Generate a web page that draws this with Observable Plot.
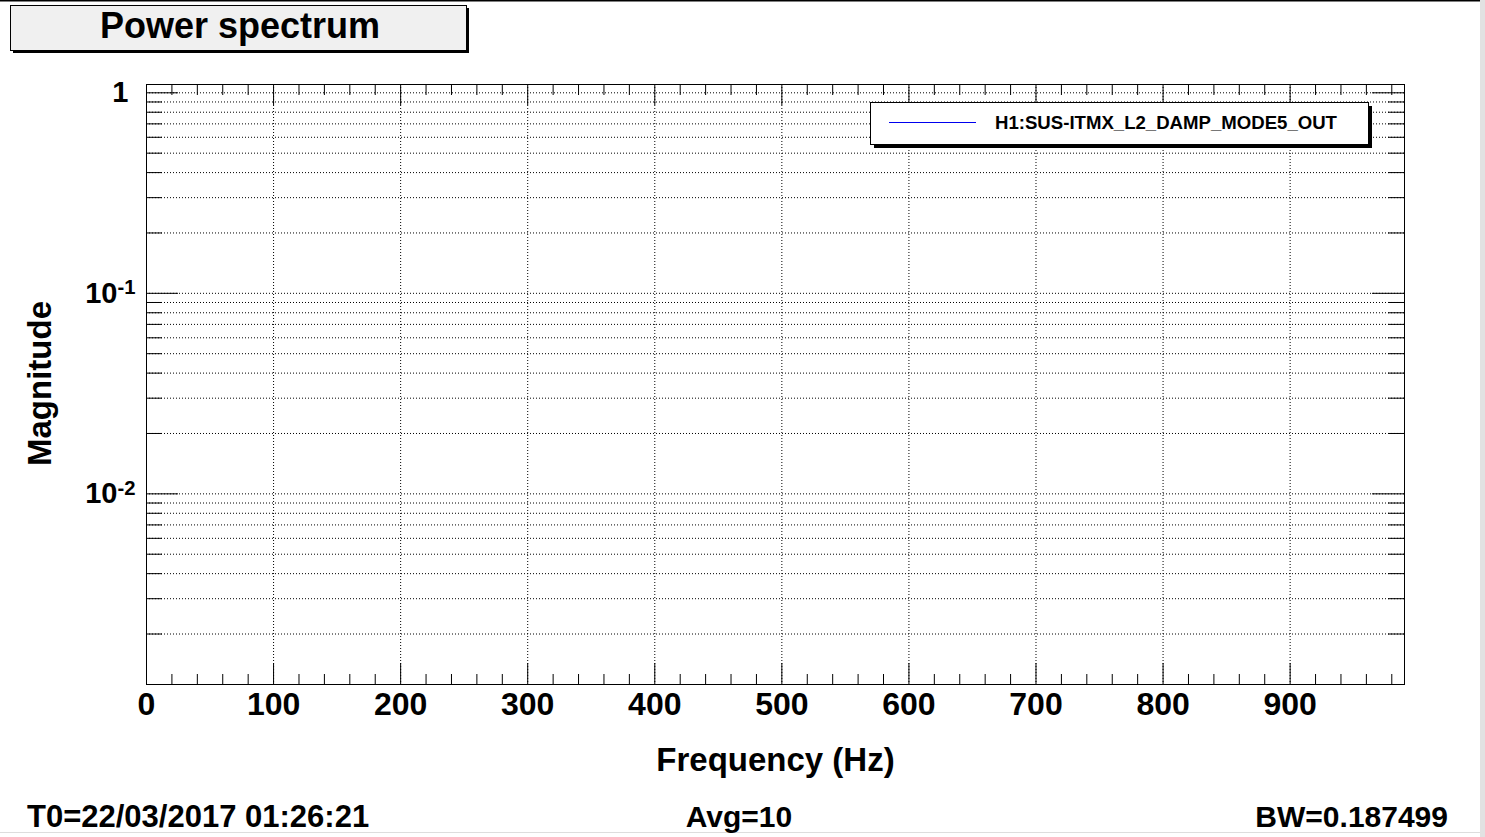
<!DOCTYPE html>
<html><head><meta charset="utf-8">
<script src="https://cdn.jsdelivr.net/npm/d3@7"></script>
<script src="https://cdn.jsdelivr.net/npm/@observablehq/plot@0.6"></script>
<style>
body{margin:0;background:#fff;}
#wrap{position:relative;width:1485px;height:837px;overflow:hidden;}
</style></head><body><div id="wrap"></div>
<script>
// ---- data ----
const titleText = "Power spectrum";
const seriesNames = ["H1:SUS-ITMX_L2_DAMP_MODE5_OUT"];
const seriesColors = ["#0000ee"];
const seriesValues = []; // no trace is visible inside the plotted range
const xLabel = "Frequency (Hz)";
const yLabel = "Magnitude";
const xDomain = [0, 990];
const yDomain = [0.00112, 1.1];
const xMajorTicks = [0, 100, 200, 300, 400, 500, 600, 700, 800, 900];
const xMinorTicks = [20, 40, 60, 80, 120, 140, 160, 180, 220, 240, 260, 280, 320, 340, 360, 380,
  420, 440, 460, 480, 520, 540, 560, 580, 620, 640, 660, 680, 720, 740, 760, 780,
  820, 840, 860, 880, 920, 940, 960, 980];
const yMajorTicks = [0.01, 0.1, 1];
const yMajorLabels = ["10^-2", "10^-1", "1"];
const yMinorTicks = [0.002, 0.003, 0.004, 0.005, 0.006, 0.007, 0.008, 0.009,
  0.02, 0.03, 0.04, 0.05, 0.06, 0.07, 0.08, 0.09,
  0.2, 0.3, 0.4, 0.5, 0.6, 0.7, 0.8, 0.9];
const footerTexts = ["T0=22/03/2017 01:26:21", "Avg=10", "BW=0.187499"];

// ---- layout ----
const W = 1485, H = 837, mL = 146, mR = 81, mT = 84, mB = 153;
const innerW = W - mL - mR, innerH = H - mT - mB;
const FONT = "'Liberation Sans', Arial, Helvetica, sans-serif";
const dotted = {stroke: "black", strokeWidth: 1, strokeDasharray: "1,2"};

const chart = Plot.plot({
  width: W, height: H,
  marginLeft: mL, marginRight: mR, marginTop: mT, marginBottom: mB,
  style: {fontFamily: FONT, fontWeight: "bold", background: "white", color: "black", overflow: "visible"},
  x: {type: "linear", domain: xDomain},
  y: {type: "log", domain: yDomain},
  marks: [
    Plot.ruleY(yMajorTicks.concat(yMinorTicks), dotted),
    Plot.ruleX(xMajorTicks.filter(d => d > xDomain[0]), dotted),
    // inward ticks: left, right
    Plot.ruleY(yMajorTicks, {insetRight: innerW - 32, stroke: "black"}),
    Plot.ruleY(yMinorTicks, {insetRight: innerW - 16, stroke: "black"}),
    Plot.ruleY(yMajorTicks, {insetLeft: innerW - 32, stroke: "black"}),
    Plot.ruleY(yMinorTicks, {insetLeft: innerW - 16, stroke: "black"}),
    // inward ticks: bottom, top
    Plot.ruleX(xMajorTicks, {insetTop: innerH - 21, stroke: "black"}),
    Plot.ruleX(xMinorTicks, {insetTop: innerH - 10, stroke: "black"}),
    Plot.ruleX(xMajorTicks, {insetBottom: innerH - 21, stroke: "black"}),
    Plot.ruleX(xMinorTicks, {insetBottom: innerH - 11, stroke: "black"}),
    Plot.line(seriesValues, {x: "f", y: "m", stroke: seriesColors[0]}),
    Plot.frame({stroke: "black", strokeWidth: 1}),
    Plot.axisX({ticks: xMajorTicks, tickSize: 0, tickPadding: 8, fontSize: 32, fontWeight: "bold",
      label: null, lineAnchor: "top", tickFormat: d => String(d)}),
    Plot.axisY({ticks: yMajorTicks, tickSize: 0, tickPadding: 11, fontSize: 29, fontWeight: "bold",
      label: null, tickFormat: d => yMajorLabels[yMajorTicks.indexOf(d)]}),
    Plot.text([xLabel], {frameAnchor: "bottom", textAnchor: "middle", lineAnchor: "top", dy: 63, fontSize: 33, fontWeight: "bold", fill: "black"}),
    Plot.text([yLabel], {frameAnchor: "left", textAnchor: "middle", rotate: -90, lineAnchor: "top", dx: -119, dy: -1, fontSize: 33, fontWeight: "bold", fill: "black"})
  ]
});
document.getElementById("wrap").appendChild(chart);

const svg = d3.select(chart);

// superscripts on the y tick labels
svg.selectAll('g[aria-label="y-axis tick label"] text').each(function () {
  const t = d3.select(this);
  const s = t.text();
  if (s.includes("^")) {
    const [base, exp] = s.split("^");
    t.text(base);
    t.append("tspan").attr("dy", "-0.42em").attr("font-size", "0.7em").text(exp);
  } else {
    t.attr("dx", -7);
  }
});

// canvas edges
svg.append("rect").attr("x", 1480).attr("y", 0).attr("width", 5).attr("height", H).attr("fill", "#e2e2e2");
svg.append("line").attr("x1", 0).attr("x2", 1480).attr("y1", 832.5).attr("y2", 832.5).attr("stroke", "#dddddd");
svg.append("line").attr("x1", 0).attr("x2", 1480).attr("y1", 0.5).attr("y2", 0.5).attr("stroke", "black").attr("stroke-width", 2);

// title box
const tb = svg.append("g").attr("text-anchor", "middle");
tb.append("rect").attr("x", 13).attr("y", 8).attr("width", 456).attr("height", 45).attr("fill", "black");
tb.append("rect").attr("x", 10.5).attr("y", 5.5).attr("width", 456).attr("height", 45).attr("fill", "#f0f0f0").attr("stroke", "black");
tb.append("text").attr("x", 240).attr("y", 38).attr("text-anchor", "middle")
  .attr("font-family", FONT).attr("font-weight", "bold").attr("font-size", 36).attr("fill", "black").text(titleText);

// legend box
const lg = svg.append("g").attr("text-anchor", "start");
lg.append("rect").attr("x", 874).attr("y", 106).attr("width", 498).attr("height", 42).attr("fill", "black");
lg.append("rect").attr("x", 870.5).attr("y", 102.5).attr("width", 498).attr("height", 42).attr("fill", "white").attr("stroke", "black");
seriesNames.forEach((name, i) => {
  lg.append("line").attr("x1", 889).attr("x2", 976).attr("y1", 122.5).attr("y2", 122.5)
    .attr("stroke", seriesColors[i]).attr("stroke-width", 1);
  lg.append("text").attr("x", 995).attr("y", 129).attr("text-anchor", "start")
    .attr("font-family", FONT).attr("font-weight", "bold")
    .attr("font-size", 18.6).attr("fill", "black").text(name);
});

// footer
const anchors = [["start", 27], ["middle", 739], ["end", 1448]];
const fsizes = [31, 30, 30];
footerTexts.forEach((s, i) => {
  svg.append("text").attr("x", anchors[i][1]).attr("y", 827).attr("text-anchor", anchors[i][0])
    .attr("font-family", FONT).attr("font-weight", "bold").attr("font-size", fsizes[i]).attr("fill", "black").text(s);
});
</script></body></html>
